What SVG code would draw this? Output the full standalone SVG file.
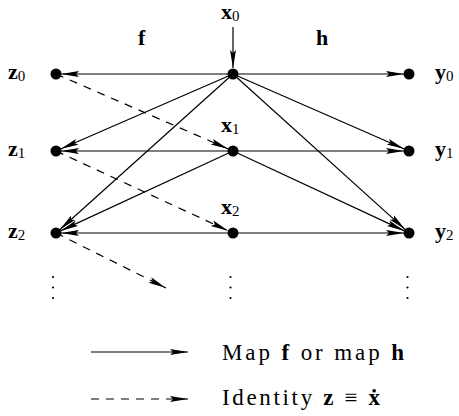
<svg xmlns="http://www.w3.org/2000/svg" width="459" height="416" viewBox="0 0 459 416">
<style>
.ln{stroke:#000;stroke-width:1.2;fill:none;marker-end:url(#ah)}
.ds{stroke-dasharray:8 7}
.dot{fill:#000}
.lb{font-family:'Liberation Serif',serif;font-size:22px;font-weight:bold;fill:#000}
.sb{font-size:15px;font-weight:normal}
.lg{font-family:'Liberation Serif',serif;font-size:23px;fill:#000}
.bd{font-weight:bold}
.el{fill:#000}
</style>
<defs>
<marker id="ah" markerUnits="userSpaceOnUse" markerWidth="19" markerHeight="8" refX="18" refY="3.5" orient="auto">
<path d="M0,0.5 L18,3.5 L0,6.5 L3,3.5 z" fill="#000"/>
</marker>
</defs>
<g id="connectors">
<line class="ln" x1="233" y1="27" x2="233" y2="68"/>
<line class="ln" x1="233" y1="74" x2="61" y2="74"/>
<line class="ln" x1="233" y1="74" x2="404" y2="74"/>
<line class="ln" x1="233" y1="74" x2="60.6" y2="149"/>
<line class="ln" x1="233" y1="74" x2="59.7" y2="229.7"/>
<line class="ln" x1="233" y1="74" x2="404.4" y2="149"/>
<line class="ln" x1="233" y1="74" x2="405.3" y2="229.6"/>
<line class="ln" x1="233" y1="151" x2="61" y2="151"/>
<line class="ln" x1="233" y1="151" x2="404" y2="151"/>
<line class="ln" x1="233" y1="151" x2="60.5" y2="230.9"/>
<line class="ln" x1="233" y1="151" x2="404.5" y2="230.9"/>
<line class="ln" x1="233" y1="233" x2="61" y2="233"/>
<line class="ln" x1="233" y1="233" x2="404" y2="233"/>
<line class="ln ds" x1="56" y1="74" x2="228.4" y2="149"/>
<line class="ln ds" x1="56" y1="151" x2="228.5" y2="230.9"/>
<line class="ln ds" x1="56" y1="233" x2="166" y2="288"/>
</g>
<g id="z0"><circle class="dot" cx="56" cy="74" r="5.5"/><text class="lb" x="8" y="79">z<tspan class="sb" dy="2">0</tspan></text></g>
<g id="z1"><circle class="dot" cx="56" cy="151" r="5.5"/><text class="lb" x="8" y="156">z<tspan class="sb" dy="2">1</tspan></text></g>
<g id="z2"><circle class="dot" cx="56" cy="233" r="5.5"/><text class="lb" x="8" y="238">z<tspan class="sb" dy="2">2</tspan></text></g>
<g id="x0"><circle class="dot" cx="233" cy="74" r="5.5"/><text class="lb" x="221" y="19">x<tspan class="sb" dy="2">0</tspan></text></g>
<g id="x1"><circle class="dot" cx="233" cy="151" r="5.5"/><text class="lb" x="221" y="132">x<tspan class="sb" dy="2">1</tspan></text></g>
<g id="x2"><circle class="dot" cx="233" cy="233" r="5.5"/><text class="lb" x="221" y="214">x<tspan class="sb" dy="2">2</tspan></text></g>
<g id="y0"><circle class="dot" cx="409" cy="74" r="5.5"/><text class="lb" x="435" y="79">y<tspan class="sb" dy="2">0</tspan></text></g>
<g id="y1"><circle class="dot" cx="409" cy="151" r="5.5"/><text class="lb" x="435" y="156">y<tspan class="sb" dy="2">1</tspan></text></g>
<g id="y2"><circle class="dot" cx="409" cy="233" r="5.5"/><text class="lb" x="435" y="238">y<tspan class="sb" dy="2">2</tspan></text></g>
<g id="maplabels">
<text class="lb" x="138" y="45">f</text>
<text class="lb" x="316" y="45">h</text>
</g>
<g id="ellipses">
<circle class="el" cx="53" cy="277" r="1.1"/><circle class="el" cx="53" cy="287.5" r="1.1"/><circle class="el" cx="53" cy="298" r="1.1"/>
<circle class="el" cx="230.5" cy="277" r="1.1"/><circle class="el" cx="230.5" cy="287.5" r="1.1"/><circle class="el" cx="230.5" cy="298" r="1.1"/>
<circle class="el" cx="407.5" cy="277" r="1.1"/><circle class="el" cx="407.5" cy="287.5" r="1.1"/><circle class="el" cx="407.5" cy="298" r="1.1"/>
</g>
<g id="legend">
<line class="ln" x1="91" y1="352" x2="188" y2="352"/>
<line class="ln ds" x1="91" y1="399" x2="188" y2="399"/>
<text class="lg" x="222" y="360" textLength="182" lengthAdjust="spacing">Map <tspan class="bd">f</tspan> or map <tspan class="bd">h</tspan></text>
<text class="lg" x="222" y="405" textLength="158" lengthAdjust="spacing">Identity <tspan class="bd">z</tspan> ≡ <tspan class="bd">ẋ</tspan></text>
</g>
</svg>
